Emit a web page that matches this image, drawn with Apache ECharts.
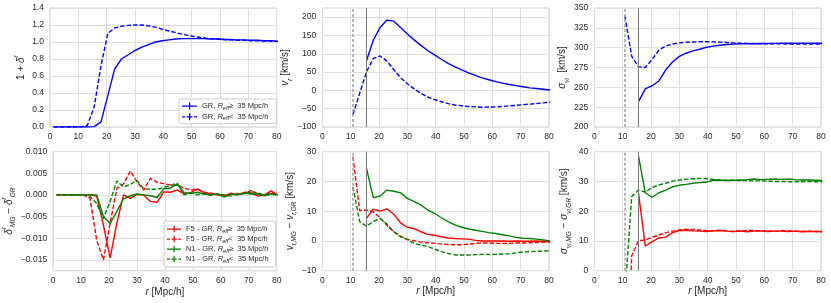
<!DOCTYPE html>
<html><head><meta charset="utf-8">
<script src="https://cdn.jsdelivr.net/npm/echarts@6/dist/echarts.min.js"></script>
<style>html,body{margin:0;padding:0;background:#fff}#c{width:831px;height:303px}</style>
</head><body><div id="c"></div>
<script>
// ---------------- data ----------------
const r = [1.2,3.6,6.0,8.4,10.8,13.2,15.6,18.0,20.4,22.8,25.2,27.6,30.0,32.4,34.8,37.2,39.6,42.0,44.4,46.8,49.2,51.6,54.0,56.4,58.8,61.2,63.6,66.0,68.4,70.8,73.2,75.6,78.0,80.4];
const vlines = [10.8, 15.6];
const xTicks = [0,10,20,30,40,50,60,70,80];

// panel 1: 1 + delta^r
const densGRbig   = [0,0,0,0,0,0,0.005,0.06,0.37,0.68,0.80,0.85,0.90,0.94,0.97,1.00,1.015,1.025,1.035,1.04,1.04,1.04,1.04,1.035,1.035,1.03,1.03,1.025,1.025,1.02,1.02,1.015,1.015,1.01];
const densGRsmall = [0,0,0,0,0,0.02,0.24,0.72,1.10,1.165,1.185,1.195,1.20,1.20,1.19,1.175,1.15,1.13,1.11,1.09,1.075,1.06,1.05,1.04,1.035,1.03,1.025,1.02,1.02,1.015,1.015,1.01,1.01,1.005];
// panel 2: v_r
const velGRbig   = [null,null,null,null,null,null,81,137,172,192,189,172,154,138,123,109,97,85,74,64,56,48,41,34,29,24,20,16,13,10,7,5,3,1];
const velGRsmall = [null,null,null,null,-66,-8,51,87,94,80,57,35,18,4,-8,-18,-25,-31,-36,-40,-42,-44,-45,-46,-45.5,-45,-44,-42,-41,-39,-37.5,-36,-34,-32];
// panel 3: sigma_v
const sigGRbig   = [null,null,null,null,null,null,232,248,252,258,272,282,289,293,296,298,300.5,302,303,304,304.5,305,305,305,305.2,305.3,305.4,305.5,305.5,305.5,305.5,305.5,305.5,305.5];
const sigGRsmall = [null,null,null,null,340,289,276,275,285,297,302,304.6,306,306.8,307.2,307.5,307.5,307.3,307,306.6,306,305.7,305.4,305.2,305,305,304.8,304.8,304.7,304.7,304.6,304.6,304.5,304.5];
// panel 4: delta_MG - delta_GR
const delF5big   = [0,0,0,0,0,0,-0.0003,-0.007,-0.0145,-0.0065,0.0,-0.0008,0.0001,0.0,-0.0015,-0.0017,0.0007,0.0006,0.0011,0.0003,0.0005,0.0013,0.0005,0.0003,0.0,-0.0003,0.0004,0.0,0.0006,0.0005,-0.0003,0.0,0.0009,0.0];
const delF5small = [0,0,0,0,0,-0.0008,-0.0105,-0.015,-0.0065,0.0015,0.0025,0.0055,0.003,0.0011,0.0038,0.0029,0.0026,0.0023,0.0022,0.0016,0.0011,0.0014,0.0006,0.0004,0.0002,-0.0002,0.0003,0.0002,0.0004,0.0010,0.0003,-0.0001,0.0006,-0.0002];
const delN1big   = [0,0,0,0,0,0,0,-0.005,-0.0066,-0.0038,-0.0009,-0.0002,0.0002,0.0,-0.0002,-0.0006,0.0014,0.0016,0.0025,0.0005,0.0003,0.0006,0.0002,0.0,0.0003,-0.0005,0.0002,0.0,0.0004,0.0002,0.0002,-0.0002,0.0002,0.0];
const delN1small = [0,0,0,0,0,-0.0003,-0.002,-0.0055,-0.0015,0.0032,0.0018,0.0024,0.0033,0.0014,0.0013,0.0013,0.0017,0.0022,0.0027,0.0,0.0005,0.0,0.0003,-0.0001,0.0002,0.0,-0.0003,0.0004,0.0002,0.0008,0.0004,0.0,0.0002,-0.0001];
// panel 5: v_r,MG - v_r,GR
const vF5big   = [null,null,null,null,null,null,7.6,10.7,10.0,10.8,9.0,6.1,4.6,4.1,3.1,2.2,1.9,1.4,1.0,0.8,0.7,0.6,0.2,0,0,0,0,-0.1,0,-0.1,-0.1,0,-0.2,-0.3];
const vF5small = [null,null,null,null,28.3,10.2,10.4,9.8,7.8,5.3,3.1,1.6,0.5,0.1,-0.4,-0.6,-0.8,-1.0,-1.2,-1.3,-1.3,-1.1,-0.8,-0.7,-0.7,-0.8,-0.8,-0.8,-0.7,-0.7,-0.6,-0.5,-0.4,-0.3];
const vN1big   = [null,null,null,null,null,null,24.4,14.5,15.1,17.1,16.7,16.2,14.3,13.2,12.1,10.4,9.3,7.8,6.5,5.4,4.6,4.0,3.6,3.2,2.8,2.5,2.1,1.7,1.2,0.9,0.8,0.6,0.3,0.0];
const vN1small = [null,null,null,null,18.2,6.5,5.0,6.5,7.6,5.7,3.1,1.4,0.5,-0.8,-1.4,-1.9,-2.7,-3.6,-4.2,-4.7,-4.7,-4.7,-4.6,-4.5,-4.5,-4.5,-4.4,-4.3,-4.0,-3.7,-3.6,-3.5,-3.4,-3.3];
// panel 6: sigma_MG - sigma_GR
const sF5big   = [null,null,null,null,null,null,26,8.3,9.8,11.0,11.3,12.8,13.5,13.6,13.4,13.3,13.2,13.4,13.5,13.3,13.2,13.3,13.1,13.3,13.4,13.2,13.3,13.3,13.2,13.3,13.1,13.2,13.2,13.1];
const sF5small = [null,null,null,null,-50,5,10.1,10.3,11.2,12.0,12.8,13.3,13.7,13.9,13.9,13.7,13.5,13.4,13.6,13.3,13.2,13.4,13.5,13.6,13.3,13.4,13.2,13.5,13.4,13.3,13.2,13.3,13.2,13.2];
const sN1big   = [null,null,null,null,null,null,38.6,26.2,24.7,26.2,27.1,28.2,28.7,29.0,29.4,29.6,29.8,30.5,30.4,30.3,30.4,30.5,30.6,30.8,30.6,30.7,30.8,30.7,30.8,30.6,30.5,30.5,30.4,30.3];
const sN1small = [null,null,null,null,-8,24.9,27.1,26.4,28.0,28.8,29.4,30.1,30.5,30.7,30.9,31.0,30.9,30.7,30.5,30.4,30.4,30.3,30.3,30.2,30.2,30.1,30.0,30.0,29.9,29.9,30.0,30.0,29.9,29.9];

const N_GRb = 'GR, Reff >= 35', N_GRs = 'GR, Reff < 35';
const N_F5b = 'F5 - GR, Reff >= 35', N_F5s = 'F5 - GR, Reff < 35';
const N_N1b = 'N1 - GR, Reff >= 35', N_N1s = 'N1 - GR, Reff < 35';

// ---------------- style ----------------
const FONT = '"Liberation Sans", Arial, sans-serif';
const TXT = '#262626', GRIDC = '#dfdfdf', BORDERC = '#cfcfcf';
const BLUE = '#0000ff', RED = '#ff0000', GREEN = '#008000';
const minus = s => String(s).replace('-', '\u2212');

const grids = [
  {left:50,    top:8,     width:226.7, height:119},
  {left:322.3, top:8,     width:226.7, height:119},
  {left:594.3, top:8,     width:226.7, height:119},
  {left:50,    top:151.5, width:226.7, height:119.3},
  {left:322.3, top:151.7, width:226.7, height:119},
  {left:594.3, top:151.7, width:226.7, height:119}
].map(g => Object.assign(g, {show:true, borderColor:BORDERC, borderWidth:1, backgroundColor:'#fff'}));

const nameRich = {
  m:  {fontSize:10, fontFamily:FONT, color:TXT, lineHeight:16},
  i:  {fontSize:10, fontFamily:FONT, fontStyle:'italic', color:TXT, lineHeight:16},
  sup:{fontSize:7, fontFamily:FONT, fontStyle:'italic', color:TXT, lineHeight:10, verticalAlign:'top'},
  sub:{fontSize:6.5, fontFamily:FONT, fontStyle:'italic', color:TXT, lineHeight:10, verticalAlign:'bottom'},
  ss: {fontSize:5, fontFamily:FONT, fontStyle:'italic', color:TXT, lineHeight:6, verticalAlign:'bottom'}
};
const yNames = [
  '{m|1 + }{i|δ}{sup|r}',
  '{i|v}{sub|r}{m| [km/s]}',
  '{i|σ}{sub|v}{ss|l}{m|  [km/s]}',
  '{i|δ}{sup|r}{sub|MG}{m| − }{i|δ}{sup|r}{sub|GR}',
  '{i|v}{sub|r,MG}{m| − }{i|v}{sub|r,GR}{m| [km/s]}',
  '{i|σ}{sub|v}{ss|l}{sub|,MG}{m| − }{i|σ}{sub|v}{ss|l}{sub|,GR}{m| [km/s]}'
];
const yGaps = [21, 25, 22, 20, 22, 22];

const isMult = (v, step) => Math.abs(v/step - Math.round(v/step)) < 1e-6;
const yCfg = [
  {min:0, max:1.4, interval:0.2, fmt:v => v.toFixed(1)},
  {min:-100, max:225, interval:25, fmt:v => isMult(v,50) ? minus(Math.round(v)) : '', colors:[GRIDC,'transparent']},
  {min:200, max:350, interval:25, fmt:v => String(Math.round(v))},
  {min:-0.0175, max:0.010, interval:0.0025, fmt:v => isMult(v,0.005) ? minus((Math.abs(v)<1e-9?0:v).toFixed(3)) : '', colors:['transparent',GRIDC]},
  {min:-10, max:30, interval:10, fmt:v => minus(Math.round(v))},
  {min:0, max:40, interval:10, fmt:v => String(Math.round(v))}
];

const xAxes = grids.map((g, k) => ({
  type:'value', gridIndex:k, min:xTicks[0], max:xTicks[xTicks.length-1], interval:xTicks[1]-xTicks[0],
  axisLine:{show:false}, axisTick:{show:false},
  axisLabel:{fontSize:8.5, fontFamily:FONT, color:TXT, margin:5},
  splitLine:{show:true, lineStyle:{color:GRIDC, width:1}},
  name: k >= 3 ? '{i|r}{m| [Mpc/h]}' : '',
  nameLocation:'middle', nameGap:13,
  nameTextStyle:{rich:nameRich}
}));
const yAxes = grids.map((g, k) => ({
  type:'value', gridIndex:k, min:yCfg[k].min, max:yCfg[k].max, interval:yCfg[k].interval,
  axisLine:{show:false}, axisTick:{show:false},
  axisLabel:{fontSize:8.5, fontFamily:FONT, color:TXT, margin:6, formatter:yCfg[k].fmt},
  splitLine:{show:true, lineStyle:{color:yCfg[k].colors || GRIDC, width:1}},
  name: yNames[k], nameLocation:'middle', nameRotate:90, nameGap:yGaps[k],
  nameTextStyle:{rich:nameRich}
}));

const vMark = {
  silent:true, symbol:'none', label:{show:false}, animation:false,
  data:[
    {xAxis:vlines[0], lineStyle:{type:[3,2], color:'#a6a6a6', width:1.6}},
    {xAxis:vlines[1], lineStyle:{type:'solid', color:'#7a7a7a', width:1}}
  ]
};

function mk(name, k, vals, color, dashed, mark) {
  const data = [];
  vals.forEach((v, i) => { if (v !== null) data.push([r[i], v]); });
  const s = {
    type:'line', name, xAxisIndex:k, yAxisIndex:k, data, showSymbol:false, symbol:'none',
    clip:true, silent:true, animation:false,
    itemStyle:{color}, lineStyle:{color, width:1.4, type: dashed ? [4.5,2] : 'solid'},
    emphasis:{disabled:true}
  };
  if (mark) s.markLine = vMark;
  return s;
}

const series = [
  mk(N_GRb, 0, densGRbig, BLUE, false),
  mk(N_GRs, 0, densGRsmall, BLUE, true),
  mk(N_GRb, 1, velGRbig, BLUE, false, true),
  mk(N_GRs, 1, velGRsmall, BLUE, true),
  mk(N_GRb, 2, sigGRbig, BLUE, false, true),
  mk(N_GRs, 2, sigGRsmall, BLUE, true),
  mk(N_F5b, 3, delF5big, RED, false),
  mk(N_F5s, 3, delF5small, RED, true),
  mk(N_N1b, 3, delN1big, GREEN, false),
  mk(N_N1s, 3, delN1small, GREEN, true),
  mk(N_F5b, 4, vF5big, RED, false, true),
  mk(N_F5s, 4, vF5small, RED, true),
  mk(N_N1b, 4, vN1big, GREEN, false),
  mk(N_N1s, 4, vN1small, GREEN, true),
  mk(N_F5b, 5, sF5big, RED, false, true),
  mk(N_F5s, 5, sF5small, RED, true),
  mk(N_N1b, 5, sN1big, GREEN, false),
  mk(N_N1s, 5, sN1small, GREEN, true)
];

const legendLabels = {};
legendLabels[N_GRb] = '{t|GR, }{i|R}{s|eff}{t|≥  35 Mpc/h}';
legendLabels[N_GRs] = '{t|GR, }{i|R}{s|eff}{t|<  35 Mpc/h}';
legendLabels[N_F5b] = '{t|F5 - GR, }{i|R}{s|eff}{t|≥  35 Mpc/h}';
legendLabels[N_F5s] = '{t|F5 - GR, }{i|R}{s|eff}{t|<  35 Mpc/h}';
legendLabels[N_N1b] = '{t|N1 - GR, }{i|R}{s|eff}{t|≥  35 Mpc/h}';
legendLabels[N_N1s] = '{t|N1 - GR, }{i|R}{s|eff}{t|<  35 Mpc/h}';
const legRich = {
  t:{fontSize:7.5, fontFamily:FONT, color:TXT, lineHeight:10},
  i:{fontSize:7.5, fontFamily:FONT, fontStyle:'italic', color:TXT, lineHeight:10},
  s:{fontSize:5.5, fontFamily:FONT, fontStyle:'italic', color:TXT, lineHeight:6, verticalAlign:'bottom'}
};
const solidIcon = 'path://M0,3H15V4.3H0Z M7,0H8.3V7H7Z';
const dashIcon  = 'path://M0,3H3.2V4.3H0Z M4.8,3H10.4V4.3H4.8Z M12,3H15V4.3H12Z M7,0H8.3V7H7Z';
function legend(names, left, top, pad, gap, w) {
  return {
    orient:'vertical', left, top, padding:pad, itemGap:gap, itemWidth:w, itemHeight:7,
    selectedMode:false, backgroundColor:'#ffffff', borderColor:'#cccccc', borderWidth:1, borderRadius:2,
    itemStyle:{borderWidth:0},
    data: names.map((n, i) => ({name:n, icon: i % 2 ? dashIcon : solidIcon})),
    formatter: n => legendLabels[n],
    textStyle:{fontSize:7.5, fontFamily:FONT, color:TXT, lineHeight:10, rich:legRich}
  };
}

const chart = echarts.init(document.getElementById('c'), null, {renderer:'canvas'});
chart.setOption({
  animation:false,
  backgroundColor:'#ffffff',
  textStyle:{fontFamily:FONT},
  grid:grids, xAxis:xAxes, yAxis:yAxes, series,
  legend:[
    legend([N_GRb, N_GRs], 179, 99, [2,8,2,3], 0.7, 15),
    legend([N_F5b, N_F5s, N_N1b, N_N1s], 164, 221, [3,7,3,3], 0, 14)
  ]
});
</script></body></html>
